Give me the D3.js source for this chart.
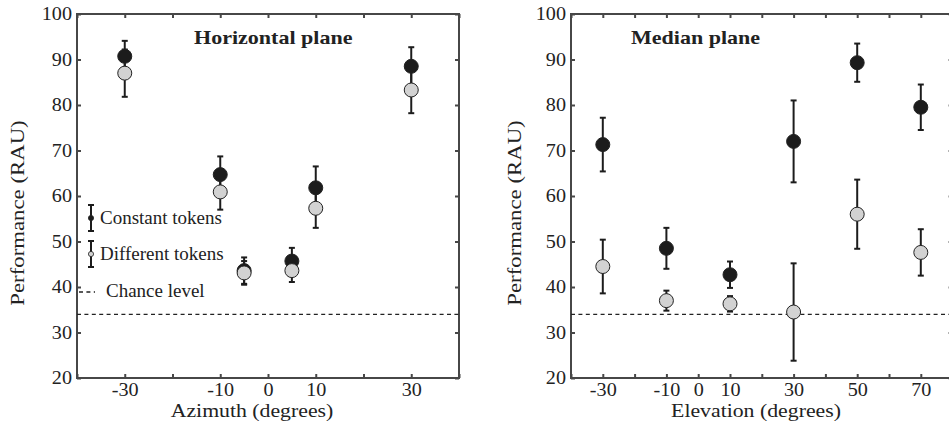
<!DOCTYPE html>
<html>
<head>
<meta charset="utf-8">
<script src="https://cdn.jsdelivr.net/npm/d3@7"></script>
<style>
  body { margin: 0; background: #fff; }
  svg { display: block; }
  svg text { font-family: "Liberation Serif", "DejaVu Serif", serif !important; fill: #222; }
  .domain { display: none; }
</style>
</head>
<body>
<svg id="chart" width="949" height="424"></svg>
<script>
// Horizontal plane (azimuth)
const azimuths = [-30, -10, -5, 5, 10, 30];
const azConstant = [90.7, 64.7, 43.6, 45.7, 61.8, 88.5];
const azConstantErr = [3.4, 4.0, 2.9, 2.9, 4.7, 4.2];
const azDifferent = [87.0, 60.9, 43.1, 43.6, 57.3, 83.3];
const azDifferentErr = [5.2, 3.9, 2.6, 2.5, 4.3, 5.1];

// Median plane (elevation)
const elevations = [-30, -10, 10, 30, 50, 70];
const elConstant = [71.3, 48.5, 42.7, 72.0, 89.3, 79.5];
const elConstantErr = [5.9, 4.5, 2.9, 9.0, 4.2, 5.0];
const elDifferent = [44.5, 37.0, 36.3, 34.5, 56.0, 47.6];
const elDifferentErr = [5.9, 2.2, 1.7, 10.7, 7.6, 5.1];

const chanceLevel = 34;
const yTicks = [20, 30, 40, 50, 60, 70, 80, 90, 100];
const azTicks = [-40, -30, -20, -10, 0, 10, 20, 30, 40];
const azLabels = [-30, -10, 0, 10, 30];
const elTicks = [-40, -30, -20, -10, 0, 10, 20, 30, 40, 50, 60, 70, 80];
const elLabels = [-30, -10, 0, 10, 30, 50, 70];

const svg = d3.select('#chart');
const axisColor = '#474747';
const markColor = '#1c1c1c';
const grayFill = '#d2d2d2';

// the original typeface is wider than Liberation Serif, so stretch it a bit
function wideText(parent, tx, ty, str, size, sx, opts = {}) {
    const holder = parent.append('g')
        .attr('transform', `translate(${tx},${ty})` + (opts.rotate ? ` rotate(${opts.rotate})` : ''));
    return holder.append('text')
        .attr('transform', `scale(${sx},1)`)
        .attr('text-anchor', opts.anchor || 'start')
        .attr('font-size', size)
        .attr('font-weight', opts.bold ? 'bold' : null)
        .text(str);
}

function drawPanel(cfg) {
    const x = d3.scaleLinear().domain(cfg.xDomain).range(cfg.xRange);
    const y = d3.scaleLinear().domain([20, 100]).range([378, 14]);
    const g = svg.append('g');

    // Axes: all ticks point inward, labels only on left and bottom
    const fmt = d => cfg.labels.includes(d) ? String(d) : '';
    g.append('g')
        .attr('transform', `translate(0,${y(20)})`)
        .call(d3.axisBottom(x).tickValues(cfg.ticks).tickFormat(fmt)
            .tickSizeInner(-4).tickSizeOuter(0).tickPadding(5.5));
    g.append('g')
        .attr('transform', `translate(0,${y(100)})`)
        .call(d3.axisTop(x).tickValues(cfg.ticks).tickFormat('')
            .tickSizeInner(-4).tickSizeOuter(0));
    g.append('g')
        .attr('transform', `translate(${x(cfg.xDomain[0])},0)`)
        .call(d3.axisLeft(y).tickValues(yTicks)
            .tickSizeInner(-4).tickSizeOuter(0).tickPadding(4.5));
    g.append('g')
        .attr('transform', `translate(${x(cfg.xDomain[1])},0)`)
        .call(d3.axisRight(y).tickValues(yTicks).tickFormat('')
            .tickSizeInner(-4).tickSizeOuter(0));
    g.selectAll('.tick line').attr('stroke', axisColor).attr('stroke-width', 2);
    g.selectAll('.tick text')
        .attr('font-size', 18)
        .attr('transform', 'scale(1.12,1)');

    // Frame
    g.append('rect')
        .attr('x', x(cfg.xDomain[0]))
        .attr('y', y(100))
        .attr('width', x(cfg.xDomain[1]) - x(cfg.xDomain[0]))
        .attr('height', y(20) - y(100))
        .attr('fill', 'none')
        .attr('stroke', axisColor)
        .attr('stroke-width', 2);

    // Chance level
    g.append('line')
        .attr('x1', x(cfg.xDomain[0])).attr('x2', x(cfg.xDomain[1]))
        .attr('y1', y(chanceLevel)).attr('y2', y(chanceLevel))
        .attr('stroke', '#222').attr('stroke-width', 1.3)
        .attr('stroke-dasharray', '4,3.4');

    const series = [
        { vals: cfg.constant, err: cfg.constantErr, fill: markColor },
        { vals: cfg.different, err: cfg.differentErr, fill: grayFill }
    ];

    // Error bars
    series.forEach(s => {
        const rows = cfg.xs.map((xv, i) => ({ x: xv, v: s.vals[i], e: s.err[i] }));
        const eb = g.append('g').selectAll('g').data(rows).join('g')
            .attr('stroke', markColor).attr('stroke-width', 2);
        eb.append('line')
            .attr('x1', d => x(d.x)).attr('x2', d => x(d.x))
            .attr('y1', d => y(d.v - d.e)).attr('y2', d => y(d.v + d.e));
        eb.append('line')
            .attr('x1', d => x(d.x) - 3).attr('x2', d => x(d.x) + 3)
            .attr('y1', d => y(d.v + d.e)).attr('y2', d => y(d.v + d.e));
        eb.append('line')
            .attr('x1', d => x(d.x) - 3).attr('x2', d => x(d.x) + 3)
            .attr('y1', d => y(d.v - d.e)).attr('y2', d => y(d.v - d.e));
    });

    // Points (gray drawn last so it sits on top)
    series.forEach(s => {
        g.append('g').selectAll('circle').data(cfg.xs).join('circle')
            .attr('cx', d => x(d))
            .attr('cy', (d, i) => y(s.vals[i]))
            .attr('r', 7)
            .attr('fill', s.fill)
            .attr('stroke', '#222')
            .attr('stroke-width', 1);
    });

    // Titles and axis labels
    wideText(g, cfg.titleX, 44, cfg.title, 19, 1.16, { bold: true });
    wideText(g, cfg.xLabelX, 417, cfg.xLabel, 18, 1.21, { anchor: 'middle' });
    wideText(g, cfg.yLabelX, 213, 'Performance (RAU)', 19, 1.2, { anchor: 'middle', rotate: -90 });

    return { x, y, g };
}

const left = drawPanel({
    xDomain: [-40, 40], xRange: [77, 459],
    ticks: azTicks, labels: azLabels,
    xs: azimuths,
    constant: azConstant, constantErr: azConstantErr,
    different: azDifferent, differentErr: azDifferentErr,
    title: 'Horizontal plane', titleX: 194,
    xLabel: 'Azimuth (degrees)', xLabelX: 252, yLabelX: 24
});

drawPanel({
    xDomain: [-40, 80], xRange: [571, 952.6],
    ticks: elTicks, labels: elLabels,
    xs: elevations,
    constant: elConstant, constantErr: elConstantErr,
    different: elDifferent, differentErr: elDifferentErr,
    title: 'Median plane', titleX: 631,
    xLabel: 'Elevation (degrees)', xLabelX: 756, yLabelX: 521
});

// Legend in the horizontal-plane panel
const lg = left.g.append('g').attr('font-size', 19);
const legendItems = [
    { label: 'Constant tokens', y: 218, fill: markColor },
    { label: 'Different tokens', y: 254, fill: grayFill }
];
legendItems.forEach(d => {
    lg.append('line').attr('x1', 91).attr('x2', 91).attr('y1', d.y - 13).attr('y2', d.y + 13)
        .attr('stroke', markColor).attr('stroke-width', 2);
    [d.y - 13, d.y + 13].forEach(cy => {
        lg.append('line').attr('x1', 88).attr('x2', 94).attr('y1', cy).attr('y2', cy)
            .attr('stroke', markColor).attr('stroke-width', 2);
    });
    lg.append('circle').attr('cx', 91).attr('cy', d.y).attr('r', 2.6)
        .attr('fill', d.fill).attr('stroke', '#222').attr('stroke-width', 0.8);
    lg.append('text').attr('x', 100).attr('y', d.y + 6).text(d.label);
});
lg.append('line').attr('x1', 79).attr('x2', 95).attr('y1', 292).attr('y2', 292)
    .attr('stroke', '#222').attr('stroke-width', 1.3).attr('stroke-dasharray', '4,3.4');
lg.append('text').attr('x', 106).attr('y', 297).text('Chance level');
</script>
</body>
</html>
